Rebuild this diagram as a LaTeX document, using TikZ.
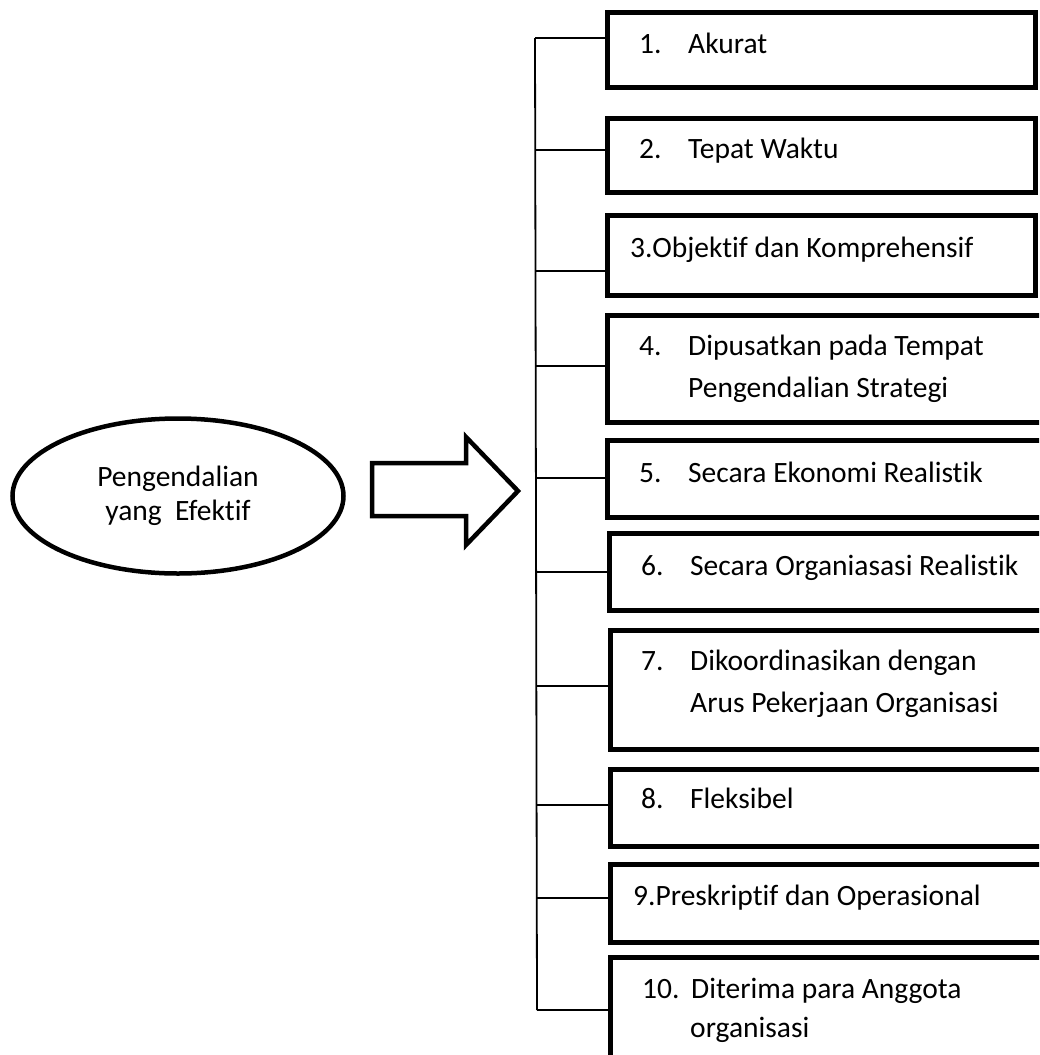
\documentclass[tikz,border=0pt]{standalone}
\usepackage{fontspec}
\setmainfont{Carlito}[Ligatures=CommonOff]
\usetikzlibrary{shapes.geometric}

\begin{document}
\begin{tikzpicture}[x=1pt,y=-1pt,
	itembox/.style={draw, line width=5pt, anchor=north west, inner sep=0pt},
	itemtext/.style={anchor=base west, inner sep=0pt, font=\fontsize{29.5}{41}\selectfont},
	branch/.style={line width=1.8pt}]
			\def \bx{ 605 };
			\def \nx{ 639 };
			\def \tx{ 688 };
			\def \nw{ 49pt };
			\clip (0,0) rectangle (1039,1055);
			\fill[white] (0,0) rectangle (1039,1055);
			% kiri
			\node[draw, ellipse, line width=4.5pt, minimum width=331, minimum height=155, align=center, font=\fontsize{29.5}{34}\selectfont] (main) at (178,496) {Pengendalian\\yang~~Efektif};
			\draw[line width=4.5pt, line join=miter] (372,463) -- (466,463) -- (466,437) -- (518,491) -- (466,545) -- (466,516) -- (372,516) -- cycle;
			% kotak
			\node[itembox, minimum width=428, minimum height=75] (b1) at (\bx,10) {};
			\node[itembox, minimum width=428, minimum height=74] (b2) at (\bx,116) {};
			\node[itembox, minimum width=428, minimum height=80] (b3) at (\bx,213) {};
			\node[itembox, minimum width=450, minimum height=107] (b4) at (\bx,313) {};
			\node[itembox, minimum width=450, minimum height=77] (b5) at (\bx,438) {};
			\node[itembox, minimum width=450, minimum height=77] (b6) at (\bx+2,531) {};
			\node[itembox, minimum width=450, minimum height=119] (b7) at (\bx+3,628) {};
			\node[itembox, minimum width=450, minimum height=77] (b8) at (\bx+3,767) {};
			\node[itembox, minimum width=450, minimum height=78] (b9) at (\bx+3,862) {};
			\node[itembox, minimum width=450, minimum height=130] (b10) at (\bx+3,955) {};
			\node[itemtext] (t1) at (\nx,53) {\makebox[\nw][l]{1.}Akurat};
			\node[itemtext] (t2) at (\nx,158) {\makebox[\nw][l]{2.}Tepat Waktu};
			\node[itemtext] (t3) at (630,257) {3.Objektif dan Komprehensif};
			\node[itemtext] (t4) at (\nx,355) {\makebox[\nw][l]{4.}Dipusatkan pada Tempat};
			\node[itemtext] (t4b) at (\tx,397) {Pengendalian Strategi};
			\node[itemtext] (t5) at (\nx,482) {\makebox[\nw][l]{5.}Secara Ekonomi Realistik};
			\node[itemtext] (t6) at (\nx+2,575) {\makebox[\nw][l]{6.}Secara Organiasasi Realistik};
			\node[itemtext] (t7) at (\nx+2,670) {\makebox[\nw][l]{7.}Dikoordinasikan dengan};
			\node[itemtext] (t7b) at (\tx+2,712) {Arus Pekerjaan Organisasi};
			\node[itemtext] (t8) at (\nx+2,808) {\makebox[\nw][l]{8.}Fleksibel};
			\node[itemtext] (t9) at (633,905) {9.Preskriptif dan Operasional};
			\node[itemtext] (t10) at (\nx+3,998) {\makebox[\nw][l]{10.}Diterima para Anggota};
			\node[itemtext] (t10b) at (\tx+2,1037) {organisasi};
			% garis
			\coordinate (k1) at (535,38);
			\coordinate (k2) at (535,150);
			\coordinate (k3) at (535,271);
			\coordinate (k4) at (536,366);
			\coordinate (k5) at (536,478);
			\coordinate (k6) at (536,572);
			\coordinate (k7) at (536,686);
			\coordinate (k8) at (537,805);
			\coordinate (k9) at (537,898);
			\coordinate (k10) at (537,1010);
			\draw[branch] (k1) -- (k10);
			\draw[branch] (k1) -- (k1 -| b1.west);
			\draw[branch] (k2) -- (k2 -| b2.west);
			\draw[branch] (k3) -- (k3 -| b3.west);
			\draw[branch] (k4) -- (k4 -| b4.west);
			\draw[branch] (k5) -- (k5 -| b5.west);
			\draw[branch] (k6) -- (k6 -| b6.west);
			\draw[branch] (k7) -- (k7 -| b7.west);
			\draw[branch] (k8) -- (k8 -| b8.west);
			\draw[branch] (k9) -- (k9 -| b9.west);
			\draw[branch] (k10) -- (k10 -| b10.west);
		\end{tikzpicture}
\end{document}
